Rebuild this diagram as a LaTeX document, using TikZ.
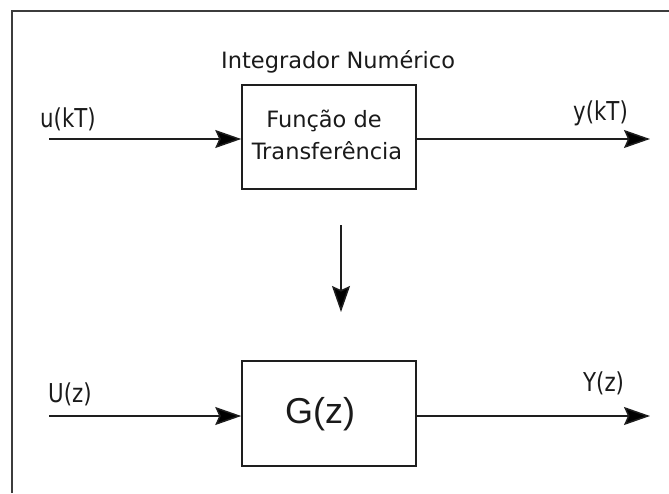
\documentclass[tikz,border=0pt]{standalone}
\usepackage{fontspec}
\setmainfont{DejaVu Sans}
\newfontfamily\signalfont[FakeStretch=0.82]{DejaVu Sans}
\newfontfamily\blockfont{Liberation Sans}
\usetikzlibrary{arrows.meta}
\definecolor{linecol}{HTML}{1E1E1E}
\definecolor{framecol}{HTML}{3C3C3C}
\definecolor{textcol}{HTML}{1A1A1A}
\begin{document}
\begin{tikzpicture}[x=1pt,y=-1pt,
  blockbox/.style={draw=linecol, line width=1.5pt, minimum width=174pt,
    minimum height=104pt, inner sep=0pt},
  flow/.style={draw=linecol, line width=1.5pt,
    -{Stealth[length=26pt,width=18pt,inset=4pt,fill=black]}},
  plain/.style={inner sep=0pt, text=textcol,
    font=\fontsize{22.5}{26}\selectfont},
  signal/.style={inner sep=0pt, text=textcol,
    font=\signalfont\fontsize{26}{30}\selectfont},
  bigtext/.style={inner sep=0pt, text=textcol,
    font=\blockfont\fontsize{36}{40}\selectfont}]
\useasboundingbox (0,0) rectangle (669,493);

% outer frame (top and left edges)
\draw[draw=framecol, line width=2pt] (12,493) -- (12,11) -- (669,11);

% blocks
\node[blockbox] (tf) at (329,137) {};
\node[blockbox, minimum height=105pt] (gz) at (329,413.5) {};

% block texts
\node[plain, anchor=base west] (title) at (221,68) {Integrador Numérico};
\node[plain, anchor=base] (tfa) at (324,127) {Função de};
\node[plain, anchor=base] (tfb) at (327,159) {Transferência};
\node[bigtext, anchor=base west] (gtext) at (285,423) {G(z)};

% signal ends
\coordinate (uin) at (49,139);
\coordinate (yout) at (650,139);
\coordinate (Uin) at (49,416);
\coordinate (Yout) at (650,416);
\coordinate (vtop) at (341,225);
\coordinate (vbot) at (341,312);

% connectors
\draw[flow] (uin) -- (uin -| tf.west);
\draw[flow] (tf.east |- yout) -- (yout);
\draw[flow] (Uin) -- (Uin -| gz.west);
\draw[flow] (gz.east |- Yout) -- (Yout);
\draw[flow] (vtop) -- (vbot);

% signal labels
\node[signal, anchor=base west] (ukt) at (40,127) {u(kT)};
\node[signal, anchor=base west] (ykt) at (573,120) {y(kT)};
\node[signal, anchor=base west] (Uz) at (48,402.7) {U(z)};
\node[signal, anchor=base west] (Yz) at (583,391.7) {Y(z)};
\end{tikzpicture}
\end{document}
